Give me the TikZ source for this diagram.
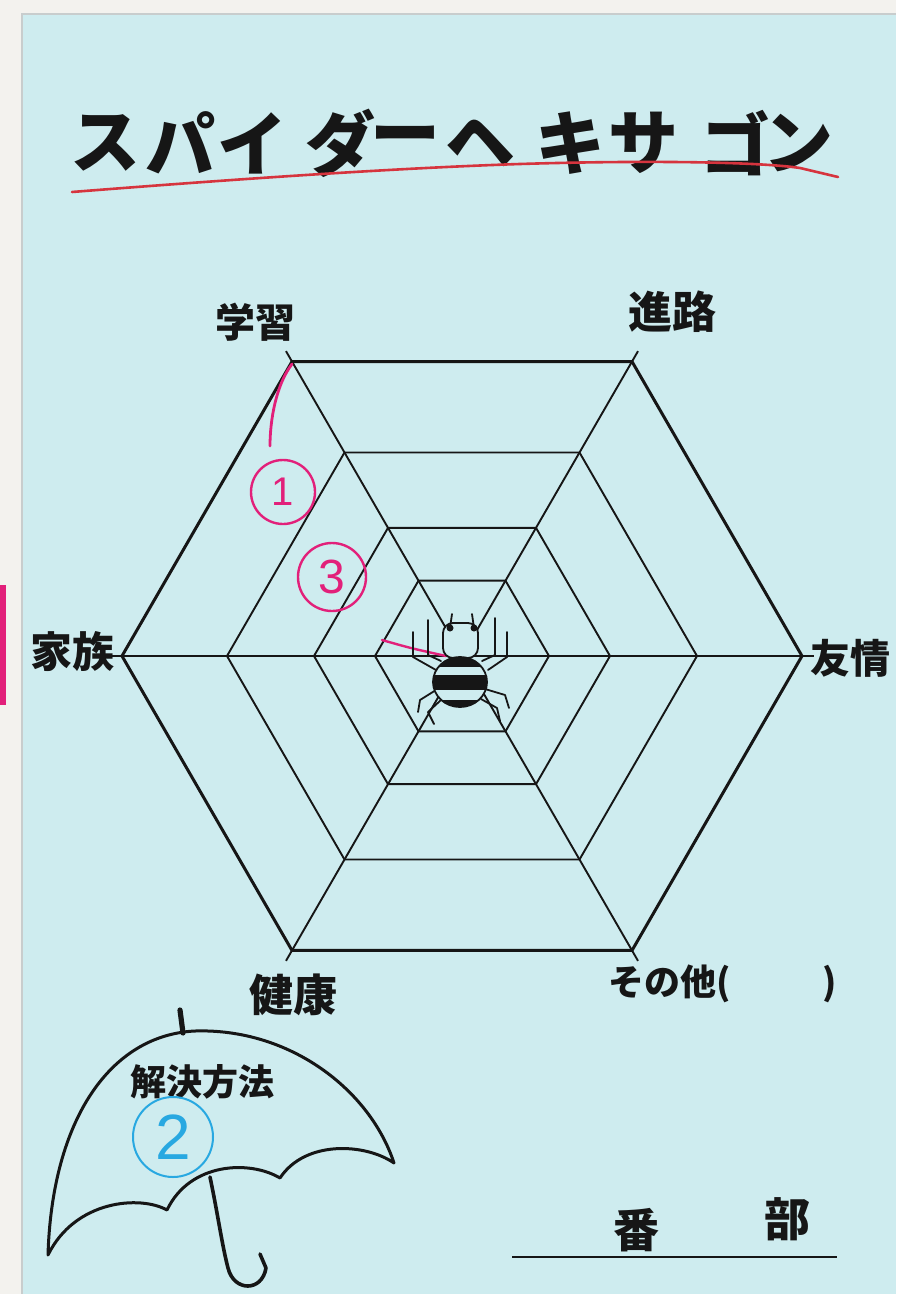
\documentclass[tikz,border=0pt]{standalone}
\usepackage{fontspec}
\newfontfamily\jp{Noto Sans CJK JP}
\newfontfamily\digitfont{Liberation Sans}
\definecolor{paper}{RGB}{206,236,239}
\definecolor{margin}{RGB}{243,242,238}
\definecolor{paperedge}{RGB}{200,205,205}
\definecolor{ink}{RGB}{22,22,22}
\definecolor{pinkm}{RGB}{226,32,122}
\definecolor{redm}{RGB}{214,52,62}
\definecolor{bluem}{RGB}{40,168,225}
\begin{document}
\begin{tikzpicture}[x=0.5pt,y=-0.5pt,
  ring/.style={draw=ink,line width=0.95pt,line join=miter},
  outerring/.style={draw=ink,line width=1.5pt,line join=miter},
  spoke/.style={draw=ink,line width=0.95pt},
  titlechar/.style={font=\jp\bfseries\fontsize{35}{37}\selectfont,text=ink,inner sep=0pt},
  lbl/.style={font=\jp\bfseries\fontsize{#1}{#1}\selectfont,text=ink,inner sep=0pt},
  lbl/.default=20,
  marker/.style={line width=1.4pt,line cap=round},
  leg/.style={draw=ink,line width=0.9pt,line cap=round,line join=round},
  umbline/.style={draw=ink,line width=1.5pt,line cap=round,line join=round},
  circled/.style={circle,draw=#1,text=#1,line width=1.2pt,inner sep=0pt,font=\digitfont}]
\useasboundingbox (0,0) rectangle (896,1294);

% sheet of paper on the scanner bed
\fill[margin] (0,0) rectangle (896,1294);
\fill[paper] (22,14) rectangle (896,1294);
\draw[paperedge,line width=0.6pt] (22,1294) -- (22,14) -- (896,14);
\fill[pinkm] (0,585) rectangle (6,705);

% title
\foreach \ch/\px [count=\i] in {ス/105,パ/180,イ/252,ダ/340,ー/405,ヘ/480,キ/570,サ/643,ゴ/735,ン/798}
  \node[titlechar] (t\i) at (\px,143) {\ch};
\draw[redm,marker,line width=1.3pt] (72,192) .. controls (250,178) and (400,168) .. (520,164)
  .. controls (650,160) and (760,162) .. (800,168) -- (838,177);

% spider web: rings and spokes
\coordinate (c) at (462,656);
\begin{scope}[shift={(462,656)}]
  \foreach \r in {87,148,235}
    \draw[ring] (0:\r) -- (60:\r) -- (120:\r) -- (180:\r) -- (240:\r) -- (300:\r) -- cycle;
  \draw[outerring] (0:340) -- (60:340) -- (120:340) -- (180:340) -- (240:340) -- (300:340) -- cycle;
  \foreach \a in {0,60,...,300}
    \coordinate (s\a) at (\a:352);
\end{scope}
\foreach \a in {0,60,...,300}
  \draw[spoke] (c) -- (s\a);

% axis labels
\node[lbl=20] (study) at (255,322) {学習};
\node[lbl=22] (career) at (672,312) {進路};
\node[lbl=21] (family) at (72,652) {家族};
\node[lbl=20] (friend) at (850,658) {友情};
\node[lbl=22] (health) at (293,995) {健康};
\node[lbl=18,anchor=west] (other) at (608,984) {その他(\hspace{46pt})};

% pink notes on the web
\draw[pinkm,marker] (292,364) .. controls (276,385) and (270,420) .. (270,446);
\node[circled=pinkm,minimum size=32pt,font=\digitfont\fontsize{20}{20}\selectfont] (n1) at (283,492) {1};
\node[circled=pinkm,minimum size=34pt,font=\digitfont\fontsize{24}{24}\selectfont] (n3) at (332,577) {3};
\draw[pinkm,marker,line width=1.2pt] (382,640) .. controls (410,648) .. (446,656);

% spider
\begin{scope}
  % legs
  \draw[leg] (413,632) -- (413,657) -- (436,670);
  \draw[leg] (428,620) -- (428,655) -- (441,661);
  \draw[leg] (495,618) -- (495,655) -- (482,661);
  \draw[leg] (507,632) -- (507,657) -- (488,670);
  \draw[leg] (436,690) -- (420,700) -- (418,712);
  \draw[leg] (441,700) -- (428,712) -- (434,724);
  \draw[leg] (485,689) -- (505,695) -- (509,708);
  \draw[leg] (481,699) -- (497,708) -- (500,721);
  % head
  \draw[ink,line width=0.9pt,fill=paper,rounded corners=5pt] (443,658) -- (443,623) -- (478,623) -- (478,658) -- cycle;
  \draw[leg] (450,628) -- (452,614);
  \draw[leg] (474,628) -- (472,614);
  \fill[ink] (450,628) circle (3.5);
  \fill[ink] (474,628) circle (3.5);
  % striped abdomen
  \fill[paper] (460,682) ellipse (27 and 25);
  \begin{scope}
    \clip (460,682) ellipse (27 and 25);
    \fill[ink] (430,655) rectangle (490,667);
    \fill[ink] (430,675) rectangle (490,690);
    \fill[ink] (430,700) rectangle (490,710);
  \end{scope}
  \draw[ink,line width=0.9pt] (460,682) ellipse (27 and 25);
\end{scope}

% umbrella
\draw[ink,line width=2.6pt,line cap=round] (180,1010) -- (183,1033);
\draw[umbline] (48,1255) .. controls (52,1120) and (110,1035) .. (195,1031)
  .. controls (290,1028) and (370,1090) .. (394,1163)
  .. controls (365,1143) and (305,1140) .. (280,1178)
  .. controls (250,1160) and (190,1162) .. (167,1210)
  .. controls (140,1195) and (75,1200) .. (48,1255) -- cycle;
\draw[umbline,line width=1.8pt] (210,1177) .. controls (218,1215) and (222,1245) .. (228,1268)
  .. controls (234,1292) and (262,1292) .. (266,1268) -- (260,1254);
\node[lbl=18] (solution) at (202,1082) {解決方法};
\node[circled=bluem,minimum size=40pt,line width=1pt,font=\digitfont\fontsize{32}{32}\selectfont] (n2) at (173,1137) {2};

% class and club
\node[lbl=23] (ban) at (636,1230) {番};
\node[lbl=23] (bu) at (787,1219) {部};
\coordinate (lineL) at (512,1257);
\coordinate (lineR) at (837,1257);
\draw[ink,line width=0.9pt] (lineL) -- (lineR);
\end{tikzpicture}
\end{document}
